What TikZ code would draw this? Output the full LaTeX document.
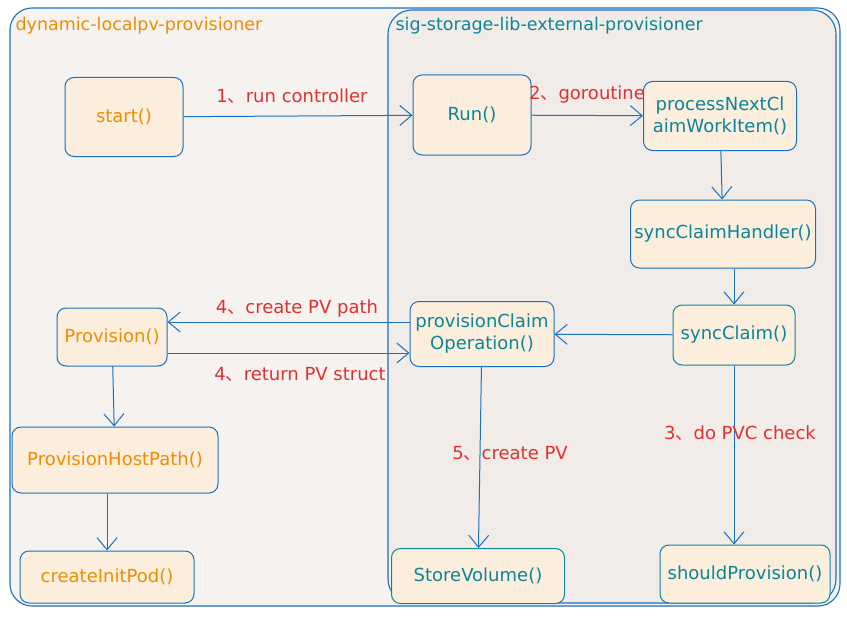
\documentclass[tikz,border=0pt]{standalone}
\usepackage{fontspec}
\setmainfont{DejaVu Sans}
\newfontfamily\cjk{Noto Sans CJK SC}
\usetikzlibrary{arrows.meta}
\definecolor{edgeblue}{HTML}{1971C2}
\definecolor{edgeteal}{HTML}{0C8599}
\definecolor{txtorange}{HTML}{F08C00}
\definecolor{txtteal}{HTML}{0C8599}
\definecolor{lblred}{HTML}{E03131}
\definecolor{areafill}{HTML}{F5F2EF}
\definecolor{innerfill}{HTML}{F1ECE8}
\definecolor{nodefill}{HTML}{FBEEDC}
\newcommand{\dun}{{\cjk 、}}

\begin{document}
\begin{tikzpicture}[x=1pt, y=-1pt,
    box/.style = {draw=edgeblue, line width=1pt, rounded corners=9pt, fill=nodefill, align=center, inner sep=0pt, font=\fontsize{18}{22}\selectfont},
    lbox/.style = {box, text=txtorange},
    rbox/.style = {box, text=txtteal},
    tbox/.style = {rbox, draw=edgeteal},
    lbl/.style = {text=lblred, font=\fontsize{18}{20}\selectfont},
    flow/.style = {->, >={Straight Barb[length=12pt,width=20pt]}, draw=edgeblue, line width=1pt}]
    \useasboundingbox (0,0) rectangle (847,618);
    \fill[white] (0,0) rectangle (847,618);
    % containers
    \draw[edgeblue, line width=1.1pt, fill=areafill, rounded corners=22pt] (10,8) rectangle (840,606);
    \draw[edgeblue, line width=1.1pt, fill=innerfill, rounded corners=24pt] (388,10) rectangle (836,603);
    \node[anchor=west, text=txtorange, font=\fontsize{17.5}{20}\selectfont] (lname) at (12,26) {dynamic-localpv-provisioner};
    \node[anchor=west, text=txtteal, font=\fontsize{17.5}{20}\selectfont] (rname) at (392,26) {sig-storage-lib-external-provisioner};
    % left side
    \node[lbox, minimum width=118, minimum height=79] (start) at (124,117) {start()};
    \node[lbox, minimum width=110, minimum height=58] (prov) at (112,337) {Provision()};
    \node[lbox, minimum width=206, minimum height=66] (php) at (115,460) {ProvisionHostPath()};
    \node[lbox, minimum width=174, minimum height=52] (cip) at (107,577) {createInitPod()};
    % right side
    \node[rbox, minimum width=118, minimum height=80] (run) at (472,115) {Run()};
    \node[rbox, minimum width=153, minimum height=69] (proc) at (720,116) {processNextCl\\aimWorkItem()};
    \node[rbox, minimum width=185, minimum height=68] (sch) at (723,234) {syncClaimHandler()};
    \node[tbox, minimum width=122, minimum height=60] (sc) at (734,335) {syncClaim()};
    \node[rbox, minimum width=144, minimum height=65] (pco) at (482,334) {provisionClaim\\Operation()};
    \node[tbox, minimum width=173, minimum height=55] (sv) at (478,576) {StoreVolume()};
    \node[tbox, minimum width=170, minimum height=58] (sp) at (745,574) {shouldProvision()};
    % connectors
    \draw[flow] (start) -- (run);
    \draw[flow] (run) -- (proc);
    \draw[flow] (proc) -- (sch);
    \draw[flow] (sch.south -| sc.north) -- (sc.north);
    \draw[flow] (sc) -- (pco);
    \draw[flow] ([yshift=12pt]pco.west) -- ([yshift=12pt]pco.west -| prov.east);
    \draw[flow] ([yshift=-16pt]prov.east) -- ([yshift=-16pt]prov.east -| pco.west);
    \draw[flow] (prov) -- (php);
    \draw[flow] (php.south -| cip.north) -- (cip.north);
    \draw[flow] (pco) -- (sv);
    \draw[flow] (sc.south) -- (sc.south |- sp.north);
    % labels
    \node[lbl] (l1) at (292,96) {1\dun run controller};
    \node[lbl] (l2) at (587,95) {2\dun goroutine};
    \node[lbl] (l4a) at (297,309) {4\dun create PV path};
    \node[lbl] (l4b) at (300,374) {4\dun return PV struct};
    \node[lbl] (l5) at (510,453) {5\dun create PV};
    \node[lbl] (l3) at (740,433) {3\dun do PVC check};
\end{tikzpicture}
\end{document}
